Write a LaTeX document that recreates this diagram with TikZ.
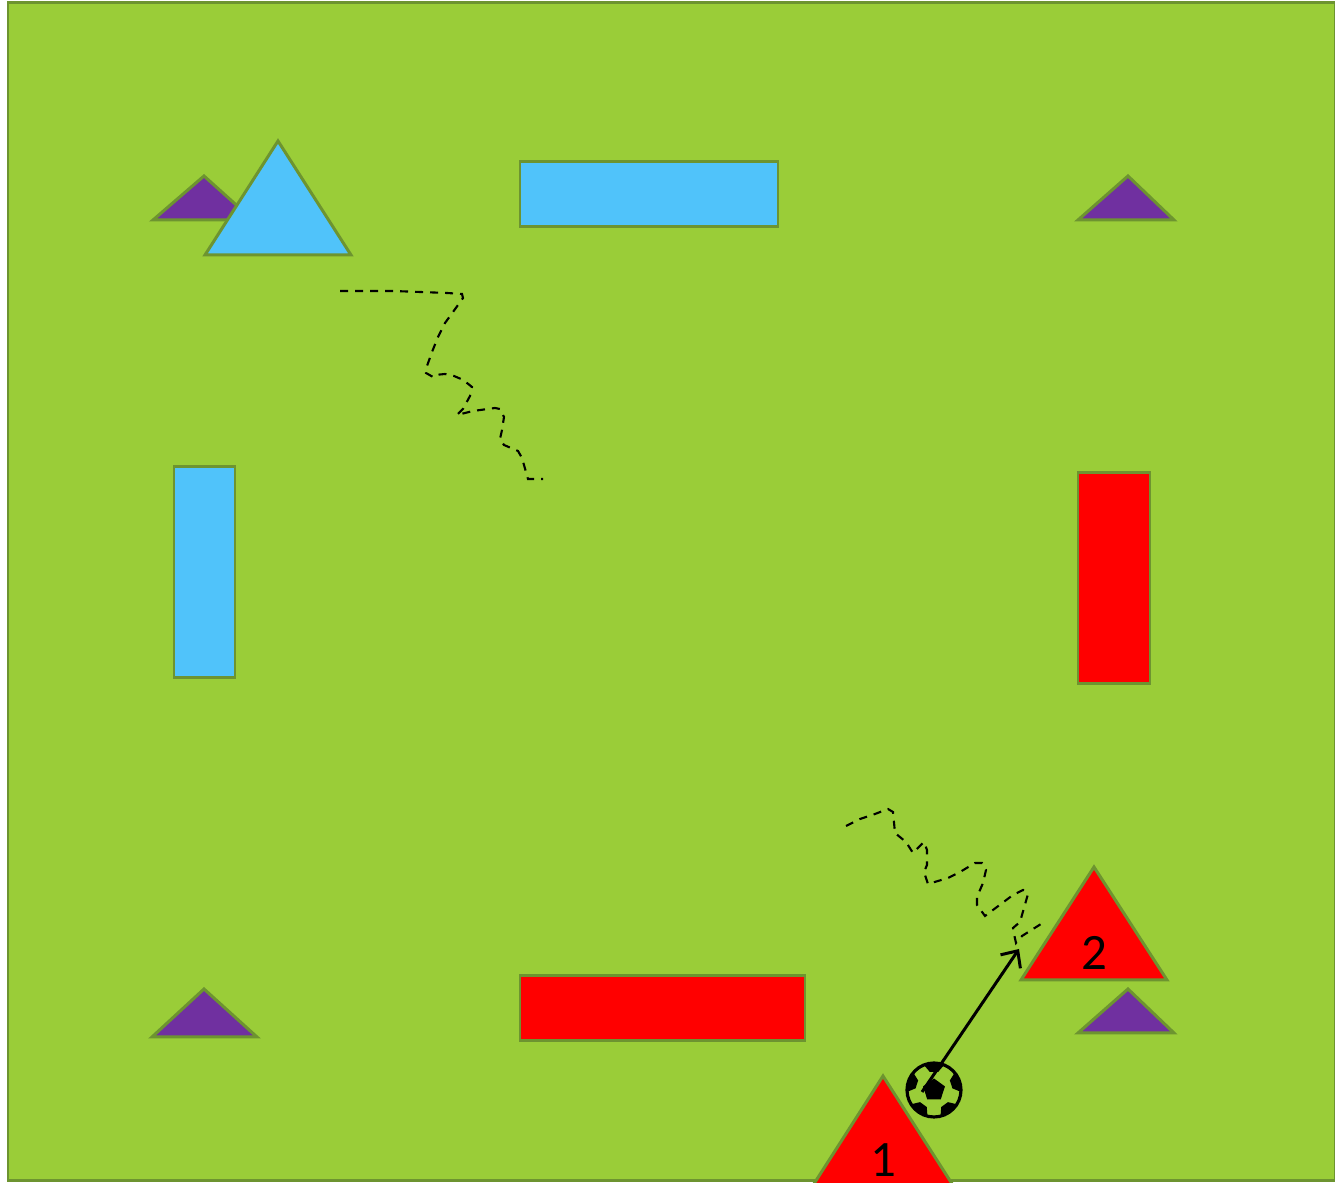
\documentclass[tikz,border=0pt]{standalone}
\usepackage{fontspec}
\setmainfont{Carlito}
\usetikzlibrary{arrows.meta,calc}
\definecolor{Field}{HTML}{9ACD38}
\definecolor{Edge}{HTML}{6D9430}
\definecolor{Sky}{HTML}{50C3FA}
\definecolor{Plum}{HTML}{7030A0}
\definecolor{Hot}{HTML}{FF0000}
\tikzset{
 shapeline/.style={draw=Edge, line width=0.85pt, line join=miter},
 skyshape/.style={shapeline, fill=Sky},
 hotshape/.style={shapeline, fill=Hot},
 plumshape/.style={shapeline, fill=Plum},
 runpath/.style={draw=black, line width=0.6pt, dash pattern=on 0.08cm off 0.07cm},
 kick/.style={-{Straight Barb[length=1.3mm,width=2.4mm]}, line width=0.85pt, draw=black},
 numlabel/.style={font=\fontsize{14.5}{17}\selectfont, inner sep=0pt, text=black},
 ballnode/.style={circle, draw=black, line width=0.9pt, minimum size=0.54cm, inner sep=0pt, outer sep=0pt}
}
\begin{document}
\begin{tikzpicture}[x=0.01cm,y=-0.01cm]
\clip (0,0) rectangle (1335,1183);
\fill[white] (0,0) rectangle (1335,1183);
\draw[shapeline,fill=Field] (8,3) rectangle (1335,1181);
% corner markers
\draw[plumshape] (204,176) -- (153,220) -- (253,220) -- cycle;
\draw[plumshape] (1128,176) -- (1078,220) -- (1174,220) -- cycle;
\draw[plumshape] (204,989) -- (152,1037) -- (257,1037) -- cycle;
\draw[plumshape] (1128,989) -- (1078,1033) -- (1174,1033) -- cycle;
% bars
\draw[skyshape] (520,162) rectangle (778,227);
\draw[skyshape] (174,467) rectangle (235,678);
\draw[hotshape] (1078,473) rectangle (1150,684);
\draw[hotshape] (520,976) rectangle (805,1041);
% players
\draw[skyshape] (278,141) -- (205,255) -- (351,255) -- cycle;
\draw[hotshape] (1094,867) -- (1021,980) -- (1167,980) -- cycle;
\draw[hotshape] (883,1076) -- (810,1190) -- (956,1190) -- cycle;
\node[numlabel] (one) at (883,1160) {1};
\node[numlabel] (two) at (1094,953) {2};
% runs
\draw[runpath] (340,291) -- (393,291) -- (447,293) -- (462,294) -- (463,298) -- (453,312) -- (445,323) -- (438,337) -- (432,352) -- (427,366) -- (426,373) -- (433,377) -- (435,375) -- (445,374) -- (454,376) -- (461,379) -- (467,383) -- (472,387) -- (470,396) -- (463,409) -- (457,415) -- (473,411) -- (495,408) -- (500,409) -- (504,417) -- (502,430) -- (500,439) -- (504,445) -- (518,451) -- (522,458) -- (528,479) -- (543,479);
\draw[runpath] (846,826) -- (860,819) -- (875,814) -- (888,809) -- (893,812) -- (895,833) -- (906,842) -- (913,853) -- (924,842) -- (927,850) -- (927,865) -- (924,872) -- (928,884) -- (948,878) -- (960,872) -- (975,863) -- (982,863) -- (986,870) -- (983,883) -- (977,897) -- (977,905) -- (985,916) -- (1013,895) -- (1023,890) -- (1028,894) -- (1020,922) -- (1013,928) -- (1014,934) -- (1016,943) -- (1022,936) -- (1041,924);
% ball
\node[ballnode] (ball) at (934,1090) {};
\fill ($(ball)+(90:0.115cm)$) -- ($(ball)+(162:0.115cm)$) -- ($(ball)+(234:0.115cm)$) -- ($(ball)+(306:0.115cm)$) -- ($(ball)+(18:0.115cm)$) -- cycle;
\foreach \a in {90,162,234,306,18}
  \fill ($(ball)+(\a-22:0.27cm)$) -- ($(ball)+(\a-13:0.185cm)$) -- ($(ball)+(\a+13:0.185cm)$) -- ($(ball)+(\a+22:0.27cm)$) -- ($(ball)+(\a:0.27cm)$) -- cycle;
\coordinate (kickstart) at (922,1092);
\coordinate (kickend) at (1019,949);
\draw[kick] (kickstart) -- (kickend);
\end{tikzpicture}
\end{document}
